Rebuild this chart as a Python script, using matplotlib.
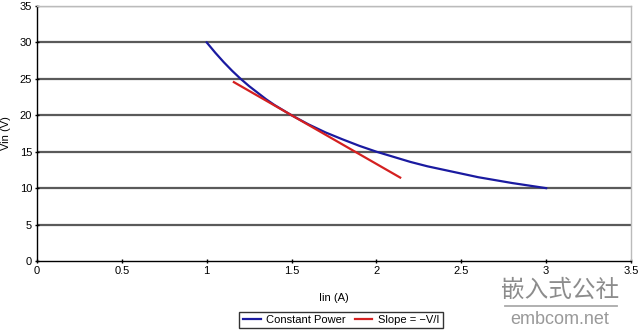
import matplotlib
matplotlib.use("Agg")
import matplotlib.pyplot as plt

plt.rcParams['font.family'] = ['Liberation Sans', 'Noto Sans CJK SC', 'DejaVu Sans']

# Constant power curve
cp_i = [1.0, 1.05, 1.1, 1.15, 1.2, 1.25, 1.3, 1.35, 1.4, 1.45, 1.5, 1.6, 1.7, 1.8, 1.9, 2.0,
        2.1, 2.2, 2.3, 2.4, 2.5, 2.6, 2.7, 2.8, 2.9, 3.0]
cp_v = [30.0, 28.6, 27.3, 26.1, 25.0, 24.0, 23.1, 22.2, 21.4, 20.7, 20.0, 18.75, 17.65, 16.7,
        15.8, 15.0, 14.3, 13.6, 13.0, 12.5, 12.0, 11.5, 11.1, 10.7, 10.35, 10.0]
# Slope line
sl_i = [1.16, 2.14]
sl_v = [24.55, 11.45]

xticks = [0, 0.5, 1, 1.5, 2, 2.5, 3, 3.5]
xtick_labels = ["0", "0.5", "1", "1.5", "2", "2.5", "3", "3.5"]
yticks = [0, 5, 10, 15, 20, 25, 30, 35]

fig = plt.figure(figsize=(6.4, 3.31), dpi=100)
ax = fig.add_axes([37/640, 1-261/331, (631-37)/640, (261-6)/331])

for y in yticks[1:]:
    ax.axhline(y, color='#5a5a5a', lw=1.6, zorder=1)

ax.plot(cp_i, cp_v, color='#1a1aa0', lw=1.6, label='Constant Power', zorder=3)
ax.plot(sl_i, sl_v, color='#d42020', lw=1.6, label='Slope = \u2212V/I', zorder=4)

ax.set_xlim(0, 3.5)
ax.set_ylim(0, 35)
ax.set_xticks(xticks)
ax.set_xticklabels(xtick_labels)
ax.set_yticks(yticks)
ax.tick_params(labelsize=8, length=3, width=1, color='black', direction='inout', pad=2)
for s in ['top', 'right']:
    ax.spines[s].set_color('#bbbbbb')
    ax.spines[s].set_linewidth(1)
for s in ['left', 'bottom']:
    ax.spines[s].set_color('black')
    ax.spines[s].set_linewidth(1)

ax.set_xlabel('Iin (A)', fontsize=8, labelpad=12)
ax.set_ylabel('Vin (V)', fontsize=8, labelpad=6)

leg = fig.legend(loc='center', bbox_to_anchor=(341/640, 1-320/331), ncol=2, fontsize=8,
                 frameon=True, fancybox=False, edgecolor='black', handlelength=1.6,
                 columnspacing=0.8, handletextpad=0.5, borderpad=0.3)
leg.get_frame().set_linewidth(1)

fig.text(560/640, 1-290/331, '嵌入式公社', fontsize=17, color='#8c8c8c', ha='center', va='center',
         family=['Noto Sans CJK SC', 'DejaVu Sans'])
fig.add_artist(plt.Line2D([505/640, 617/640], [1-306/331, 1-306/331], color='#aaaaaa', lw=1.3))
fig.text(560/640, 1-320/331, 'embcom.net', fontsize=13, color='#999999', ha='center', va='center')

fig.savefig('out.png', dpi=100)
